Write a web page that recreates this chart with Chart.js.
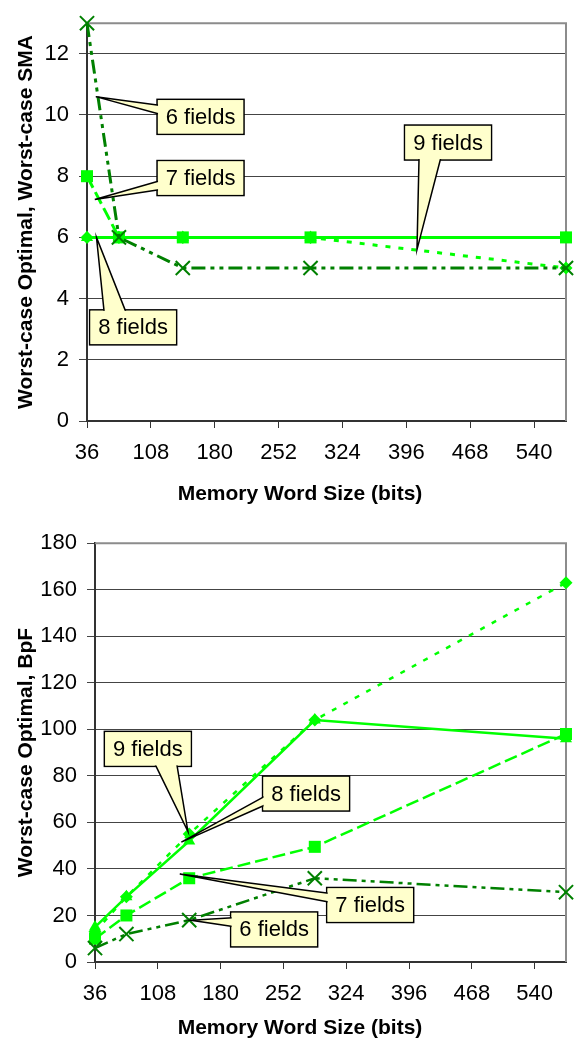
<!DOCTYPE html>
<html>
<head>
<meta charset="utf-8">
<script src="https://cdn.jsdelivr.net/npm/chart.js@4.4.1/dist/chart.umd.min.js"></script>
<style>
  body { margin: 0; background: #fff; }
  #smaChart { position: absolute; left: 0; top: 0; }
  #bpfChart { position: absolute; left: 0; top: 520px; }
</style>
</head>
<body>
<canvas id="smaChart" width="578" height="520"></canvas>
<canvas id="bpfChart" width="578" height="521"></canvas>
<script>
// memory word sizes (bits)
const wordSizes = [36, 72, 144, 288, 576];
const xTicks = [36, 108, 180, 252, 324, 396, 468, 540];

// worst-case SMA
const sma6 = [13, 6, 5, 5, 5];
const sma7 = [8, 6, 6, 6, 6];
const sma8 = [6, 6, 6, 6, 6];
const sma9 = [6, 6, 6, 6, 5];
const smaTicks = [0, 2, 4, 6, 8, 10, 12];

// worst-case BpF
const bpf6 = [6, 12, 18, 36, 30];
const bpf7 = [10, 20, 36, 49.5, 98];
const bpf8 = [15, 28, 52, 104, 96];
const bpf9 = [13, 28, 55, 104, 163];
const bpfTicks = [0, 20, 40, 60, 80, 100, 120, 140, 160, 180];

// callout boxes: box centre and pointer tip, in data units
const smaCallouts = [
  { text: '6 fields', box: [164, 9.94], tip: [45.9, 10.6] },
  { text: '7 fields', box: [164, 7.94], tip: [44.8, 7.24] },
  { text: '9 fields', box: [443, 9.1], tip: [408, 5.6] },
  { text: '8 fields', box: [88, 3.06], tip: [46.7, 6.0] }
];
const bpfCallouts = [
  { text: '9 fields', box: [96.6, 91.6], tip: [142.5, 56.2] },
  { text: '8 fields', box: [278, 72.4], tip: [135, 51.5] },
  { text: '7 fields', box: [351.5, 24.5], tip: [133.2, 37.8] },
  { text: '6 fields', box: [241.4, 14.0], tip: [146.2, 17.9] }
];

const FONT = '"Liberation Sans", Arial, sans-serif';
const DARK = '#008000';
const LIME = '#00ff00';

Chart.defaults.font.family = FONT;
Chart.defaults.color = '#000';

function pts(vals) {
  return wordSizes.map((x, i) => ({ x: x, y: vals[i] }));
}

function makeSets(v6, v7, v8, v9, lw) {
  const common = { fill: false, tension: 0, clip: false, borderWidth: lw };
  return [
    Object.assign({}, common, {
      label: '6 fields', data: pts(v6), borderColor: DARK, borderDash: [14, 5, 4, 5, 4, 5],
      pointStyle: 'crossRot', pointRadius: 10, pointBorderWidth: 2,
      pointBorderColor: DARK, pointBackgroundColor: DARK
    }),
    Object.assign({}, common, {
      label: '7 fields', data: pts(v7), borderColor: LIME, borderDash: [13, 5],
      pointStyle: 'rect', pointRadius: 8.5, pointBorderWidth: 0,
      pointBackgroundColor: LIME
    }),
    Object.assign({}, common, {
      label: '8 fields', data: pts(v8), borderColor: LIME,
      pointStyle: 'triangle', pointRadius: 7, pointBorderWidth: 0,
      pointBackgroundColor: LIME
    }),
    Object.assign({}, common, {
      label: '9 fields', data: pts(v9), borderColor: LIME, borderDash: [5, 8],
      pointStyle: 'rectRot', pointRadius: 6.5, pointBorderWidth: 0,
      pointBackgroundColor: LIME
    })
  ];
}

function xScale(h) {
  return {
    type: 'linear', min: 36, max: 576,
    afterBuildTicks: s => { s.ticks = xTicks.map(v => ({ value: v })); },
    afterFit: s => { s.height = h; },
    grid: { drawOnChartArea: false, tickLength: 7, color: '#333' },
    border: { color: '#333', width: 2 },
    ticks: { font: { size: 22 }, padding: 12, maxRotation: 0, autoSkip: false }
  };
}

function yScale(max, ticks, w, title) {
  return {
    type: 'linear', min: 0, max: max,
    afterBuildTicks: s => { s.ticks = ticks.map(v => ({ value: v })); },
    afterFit: s => { s.width = w; },
    grid: { color: '#444', lineWidth: 1, tickLength: 8 },
    border: { color: '#333', width: 2 },
    ticks: { font: { size: 22 }, padding: 10 },
    title: {
      display: true, text: title,
      font: { size: 21, weight: 'bold' }, padding: { top: 14, bottom: 0 }
    }
  };
}

// grey frame on top and right of the plot area
const framePlugin = {
  id: 'frame',
  beforeDatasetsDraw(chart) {
    const { ctx, chartArea: a } = chart;
    ctx.save();
    ctx.strokeStyle = '#8c8c8c';
    ctx.lineWidth = 2;
    ctx.beginPath();
    ctx.moveTo(a.left, a.top);
    ctx.lineTo(a.right, a.top);
    ctx.lineTo(a.right, a.bottom);
    ctx.stroke();
    ctx.restore();
  }
};

function drawCallout(ctx, c, xs, ys) {
  const cx = xs.getPixelForValue(c.box[0]), cy = ys.getPixelForValue(c.box[1]);
  const tx = xs.getPixelForValue(c.tip[0]), ty = ys.getPixelForValue(c.tip[1]);
  const w = 87, h = 35;
  const l = cx - w / 2, t = cy - h / 2;
  const dx = tx - cx, dy = ty - cy;
  let b1, b2;
  if (Math.abs(dx) / w > Math.abs(dy) / h) {
    const ex = dx < 0 ? l + 2 : l + w - 2;
    const r = dy < 0 ? [h / 6, 5 * h / 12] : [7 * h / 12, 5 * h / 6];
    b1 = [ex, t + r[0]]; b2 = [ex, t + r[1]];
  } else {
    const ey = dy < 0 ? t + 2 : t + h - 2;
    const r = dx < 0 ? [w / 6, 5 * w / 12] : [7 * w / 12, 5 * w / 6];
    b1 = [l + r[0], ey]; b2 = [l + r[1], ey];
  }
  ctx.save();
  ctx.fillStyle = '#ffffcc';
  ctx.strokeStyle = '#000';
  ctx.lineWidth = 1.5;
  ctx.fillRect(l, t, w, h);
  ctx.strokeRect(l, t, w, h);
  ctx.beginPath();
  ctx.moveTo(b1[0], b1[1]);
  ctx.lineTo(tx, ty);
  ctx.lineTo(b2[0], b2[1]);
  ctx.closePath();
  ctx.fill();
  ctx.beginPath();
  ctx.moveTo(b1[0], b1[1]);
  ctx.lineTo(tx, ty);
  ctx.lineTo(b2[0], b2[1]);
  ctx.stroke();
  ctx.fillRect(l + 1, t + 1, w - 2, h - 2);
  ctx.fillStyle = '#000';
  ctx.font = '22px ' + FONT;
  ctx.textAlign = 'center';
  ctx.textBaseline = 'middle';
  ctx.fillText(c.text, cx, cy + 1);
  ctx.restore();
}

const calloutPlugin = {
  id: 'callouts',
  afterDatasetsDraw(chart, args, opts) {
    opts.items.forEach(c => drawCallout(chart.ctx, c, chart.scales.x, chart.scales.y));
  }
};

// x-axis title, centred where the original has it
const xTitlePlugin = {
  id: 'xTitle',
  afterDraw(chart, args, opts) {
    const ctx = chart.ctx;
    ctx.save();
    ctx.font = 'bold 21px ' + FONT;
    ctx.fillStyle = '#000';
    ctx.textAlign = 'center';
    ctx.textBaseline = 'middle';
    ctx.fillText(opts.text, opts.x, opts.y);
    ctx.restore();
  }
};

new Chart(document.getElementById('smaChart'), {
  type: 'line',
  data: { datasets: makeSets(sma6, sma7, sma8, sma9, 3) },
  options: {
    responsive: false,
    animation: false,
    layout: { padding: { top: 14, right: 1, left: 0, bottom: 0 } },
    scales: {
      x: xScale(99),
      y: yScale(13, smaTicks, 87, 'Worst-case Optimal, Worst-case SMA')
    },
    plugins: {
      legend: { display: false },
      tooltip: { enabled: false },
      callouts: { items: smaCallouts },
      xTitle: { text: 'Memory Word Size (bits)', x: 300, y: 494.5 }
    }
  },
  plugins: [framePlugin, calloutPlugin, xTitlePlugin]
});

new Chart(document.getElementById('bpfChart'), {
  type: 'line',
  data: { datasets: makeSets(bpf6, bpf7, bpf8, bpf9, 2.5) },
  options: {
    responsive: false,
    animation: false,
    layout: { padding: { top: 19, right: 2, left: 0, bottom: 0 } },
    scales: {
      x: xScale(79),
      y: yScale(180, bpfTicks, 95, 'Worst-case Optimal, BpF')
    },
    plugins: {
      legend: { display: false },
      tooltip: { enabled: false },
      callouts: { items: bpfCallouts },
      xTitle: { text: 'Memory Word Size (bits)', x: 300, y: 508 }
    }
  },
  plugins: [framePlugin, calloutPlugin, xTitlePlugin]
});
</script>
</body>
</html>
